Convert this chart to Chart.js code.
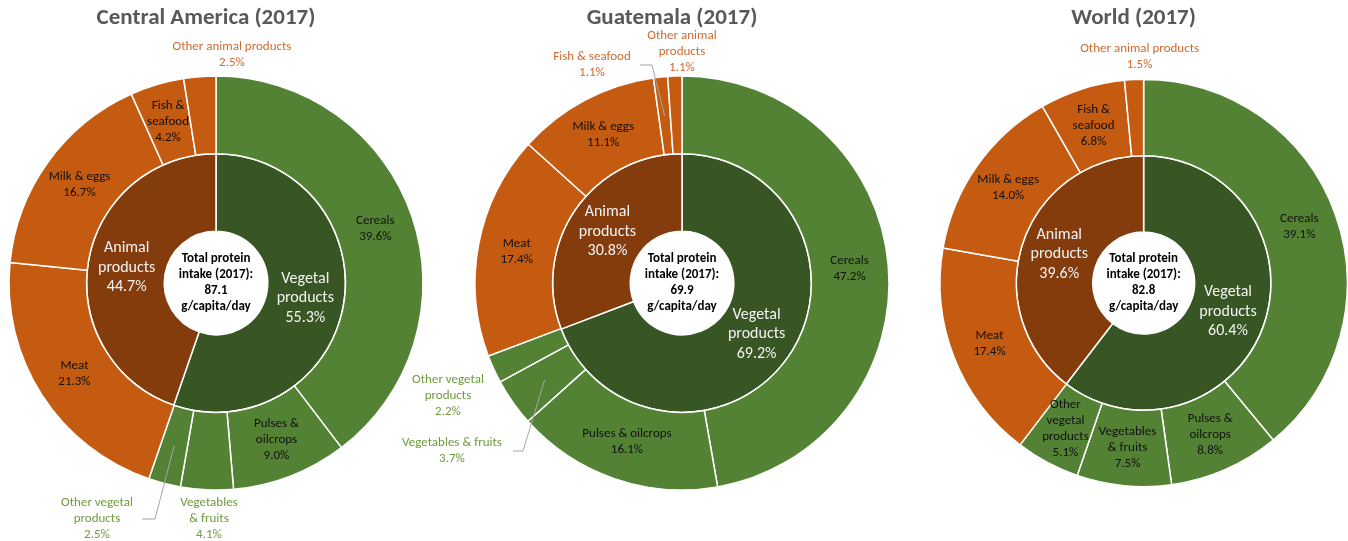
<!DOCTYPE html>
<html>
<head>
<meta charset="utf-8">
<title>Protein intake 2017</title>
<script src="https://cdn.jsdelivr.net/npm/chart.js@4.4.1/dist/chart.umd.min.js"></script>
<style>
  html,body{margin:0;padding:0;background:#fff}
  #wrap{position:relative;width:1348px;height:541px;overflow:hidden}
  #wrap canvas{position:absolute;left:0;top:0}
</style>
</head>
<body>
<div id="wrap">
  <canvas id="ca" width="1348" height="541"></canvas>
  <canvas id="gt" width="1348" height="541"></canvas>
  <canvas id="wd" width="1348" height="541"></canvas>
</div>
<script>
// protein supply shares (%), 2017
const groupLabels = ['Vegetal products', 'Animal products']
const itemLabels = ['Cereals', 'Pulses & oilcrops', 'Vegetables & fruits', 'Other vegetal products',
                    'Meat', 'Milk & eggs', 'Fish & seafood', 'Other animal products']
const itemGroup = [0, 0, 0, 0, 1, 1, 1, 1]

const caGroups = [55.3, 44.7]
const caItems  = [39.6, 9.0, 4.1, 2.5, 21.3, 16.7, 4.2, 2.5]
const gtGroups = [69.2, 30.8]
const gtItems  = [47.2, 16.1, 3.7, 2.2, 17.4, 11.1, 1.1, 1.1]
const wdGroups = [60.4, 39.6]
const wdItems  = [39.1, 8.8, 7.5, 5.1, 17.4, 14.0, 6.8, 1.5]

const totals = [87.1, 69.9, 82.8]   // g/capita/day
const titles = ['Central America (2017)', 'Guatemala (2017)', 'World (2017)']

const FONT = 'Carlito, Calibri, Lato, sans-serif'
const COL = {
  itemFill: ['#548235', '#C55A11'],
  groupFill: ['#375623', '#843C0C'],
  outText: ['#6E9C3E', '#CF6A30'],
  leader: '#A6A6A6'
}

// how each slice label is broken into lines; "out" puts it outside at [dx,dy] from the centre,
// "leader" = [elbow dx, end dx] of a gray connector line
const groupLines = [['Vegetal', 'products'], ['Animal', 'products']]
const caLayout = [
  {lines: ['Cereals']},
  {lines: ['Pulses &', 'oilcrops']},
  {lines: ['Vegetables', '& fruits'], out: [-7, 236]},
  {lines: ['Other vegetal', 'products'], out: [-119, 236], leader: [-61, -74]},
  {lines: ['Meat']},
  {lines: ['Milk & eggs']},
  {lines: ['Fish &', 'seafood']},
  {lines: ['Other animal products'], out: [16, -228]}
]
const gtLayout = [
  {lines: ['Cereals']},
  {lines: ['Pulses & oilcrops']},
  {lines: ['Vegetables & fruits'], out: [-230, 168], leader: [-159, -169]},
  {lines: ['Other vegetal', 'products'], out: [-234, 113]},
  {lines: ['Meat']},
  {lines: ['Milk & eggs']},
  {lines: ['Fish & seafood'], out: [-90, -218], leader: [-30, -42]},
  {lines: ['Other animal', 'products'], out: [0, -231]}
]
const wdLayout = [
  {lines: ['Cereals']},
  {lines: ['Pulses &', 'oilcrops']},
  {lines: ['Vegetables', '& fruits']},
  {lines: ['Other', 'vegetal', 'products']},
  {lines: ['Meat']},
  {lines: ['Milk & eggs']},
  {lines: ['Fish &', 'seafood']},
  {lines: ['Other animal products'], out: [-4, -226]}
]

const pct = v => v.toFixed(1) + '%'

function drawLines(ctx, lines, x, y, lh){
  const top = y - (lines.length - 1) * lh / 2
  lines.forEach((t, i) => ctx.fillText(t, x, top + i * lh))
}

const donutText = {
  id: 'donutText',
  afterDatasetsDraw(chart, args, opts){
    const ctx = chart.ctx
    const outerArcs = chart.getDatasetMeta(0).data
    const innerArcs = chart.getDatasetMeta(1).data
    const outerVals = chart.data.datasets[0].data
    const innerVals = chart.data.datasets[1].data
    const {x: cx, y: cy} = innerArcs[0].getProps(['x', 'y'], true)
    ctx.save()
    ctx.textAlign = 'center'
    ctx.textBaseline = 'middle'

    ctx.font = `bold 23px ${FONT}`
    ctx.fillStyle = '#595959'
    ctx.fillText(opts.title, cx - 10, 18)

    // outer ring labels
    ctx.font = `13px ${FONT}`
    outerArcs.forEach((arc, i) => {
      const lay = opts.layout[i]
      const lines = [...lay.lines, pct(outerVals[i])]
      const c = arc.tooltipPosition(true)
      if(lay.out){
        const lx = cx + lay.out[0], ly = cy + lay.out[1]
        if(lay.leader){
          ctx.strokeStyle = COL.leader
          ctx.lineWidth = 1
          ctx.beginPath()
          ctx.moveTo(c.x, c.y)
          ctx.lineTo(cx + lay.leader[0], ly)
          ctx.lineTo(cx + lay.leader[1], ly)
          ctx.stroke()
        }
        ctx.fillStyle = COL.outText[itemGroup[i]]
        drawLines(ctx, lines, lx, ly, 16)
      } else {
        ctx.fillStyle = '#111'
        drawLines(ctx, lines, c.x, c.y, 16)
      }
    })

    // inner ring labels
    ctx.font = `16px ${FONT}`
    ctx.fillStyle = '#F2F2F2'
    innerArcs.forEach((arc, i) => {
      const c = arc.tooltipPosition(true)
      drawLines(ctx, [...groupLines[i], pct(innerVals[i])], c.x, c.y, 19.5)
    })

    // centre hole
    ctx.font = `bold 13px ${FONT}`
    ctx.fillStyle = '#000'
    drawLines(ctx, ['Total protein', 'intake (2017):', opts.total.toFixed(1), 'g/capita/day'], cx, cy, 16)
    ctx.restore()
  }
}

const R = 207, CY = 283, BW = 1.5
function makeDonut(id, cx, groups, items, layout, idx){
  new Chart(document.getElementById(id), {
    type: 'doughnut',
    data: {
      labels: itemLabels,
      datasets: [
        {data: items, backgroundColor: itemGroup.map(g => COL.itemFill[g]), borderColor: '#fff', borderWidth: BW},
        {data: groups, labels: groupLabels, backgroundColor: COL.groupFill, borderColor: '#fff', borderWidth: BW}
      ]
    },
    options: {
      responsive: false,
      devicePixelRatio: 1,
      animation: false,
      cutout: '25%',
      events: [],
      layout: {padding: {
        left: cx - R - BW / 2,
        right: 1348 - (cx + R + BW / 2),
        top: CY - R - BW / 2,
        bottom: 541 - (CY + R + BW / 2)
      }},
      plugins: {
        legend: {display: false},
        tooltip: {enabled: false},
        donutText: {title: titles[idx], total: totals[idx], layout}
      }
    },
    plugins: [donutText]
  })
}

makeDonut('ca', 216, caGroups, caItems, caLayout, 0)
makeDonut('gt', 682, gtGroups, gtItems, gtLayout, 1)
makeDonut('wd', 1147, wdGroups, wdItems, wdLayout, 2)
</script>
</body>
</html>
